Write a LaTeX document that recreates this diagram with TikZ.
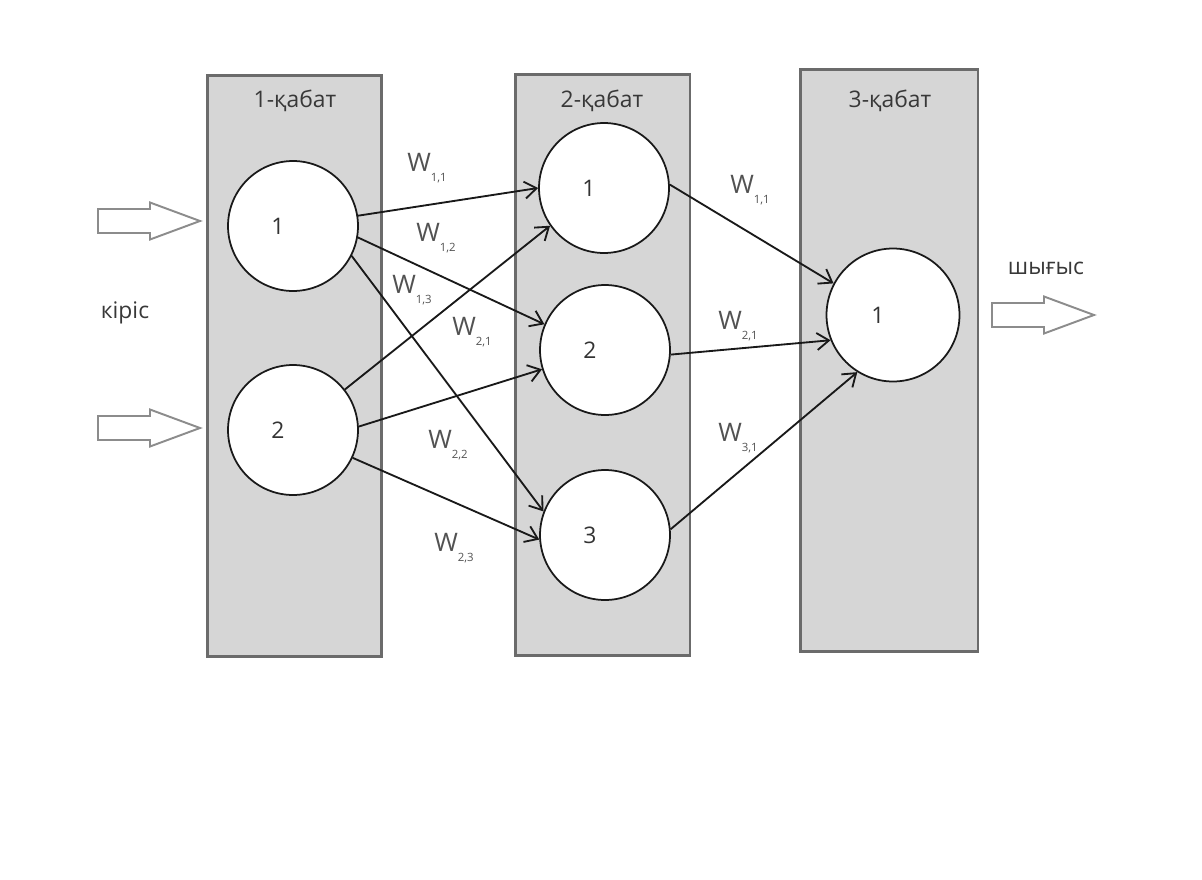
\documentclass[tikz,border=0pt]{standalone}
\usepackage{fontspec}
\setmainfont{Open Sans}
\usetikzlibrary{arrows.meta}
\newcommand{\wlab}[1]{W\raisebox{-0.7ex}{\fontsize{6.5}{7}\selectfont #1}}

\begin{document}
\begin{tikzpicture}[
    x=0.02cm, y=-0.02cm,
    layer/.style={rectangle, draw=black!58, line width=1.7pt, fill=black!16, minimum width=3.5cm, minimum height=11.64cm},
    neuron/.style={circle, draw=black!90, line width=1pt, fill=white, minimum size=2.6cm},
    numlab/.style={xshift=-0.3cm, font=\fontsize{13}{15}\selectfont, text=black!80},
    title/.style={font=\fontsize{13}{15}\selectfont, text=black!78},
    wlabel/.style={font=\fontsize{14.5}{16}\selectfont, text=black!68},
    arrow/.style={-{Straight Barb[length=2.4mm, width=3.4mm]}, line width=1.05pt, draw=black!90},
    bigarrow/.pic={\draw[draw=black!45, line width=1.1pt, fill=white]
        (0,-12) -- (52,-12) -- (52,-18.5) -- (102,0) -- (52,18.5) -- (52,12) -- (0,12) -- cycle;}
]
    \useasboundingbox (0,0) rectangle (1202,879);

    % layers
    \node[layer] (lay1) at (294.5,366) {};
    \node[layer] (lay2) at (602.5,365) {};
    \node[layer, minimum width=3.56cm, minimum height=11.66cm] (lay3) at (889,360.5) {};
    \node[title] (t1) at (295,101) {1-қабат};
    \node[title] (t2) at (602,101) {2-қабат};
    \node[title] (t3) at (890,101) {3-қабат};

    % neurons
    \node[neuron, label={[numlab]center:1}] (i1) at (293,226) {};
    \node[neuron, label={[numlab]center:2}] (i2) at (293,430) {};
    \node[neuron, label={[numlab]center:1}] (h1) at (604,188) {};
    \node[neuron, label={[numlab]center:2}] (h2) at (605,350) {};
    \node[neuron, label={[numlab]center:3}] (h3) at (605,535) {};
    \node[neuron, minimum size=2.66cm, label={[numlab]center:1}] (o1) at (893,315) {};

    % inputs and output
    \pic at (98,221) {bigarrow};
    \pic at (98,428) {bigarrow};
    \pic at (992,315) {bigarrow};
    \node[title] (inp) at (125,313) {кіріс};
    \node[title] (out) at (1046,268) {шығыс};

    % weights 1 -> 2
    \draw[arrow] (i1.9) -- (h1.180);
    \draw[arrow] (i1.-10) -- (h2.157);
    \draw[arrow] (i1.-27) -- (h3.159);
    \draw[arrow] (i2.38) -- (h1.-145);
    \draw[arrow] (i2.3) -- (h2.197);
    \draw[arrow] (i2.-25) -- (h3.184);
    \node[wlabel] (w11) at (427,168) {\wlab{1,1}};
    \node[wlabel] (w12) at (436,238) {\wlab{1,2}};
    \node[wlabel] (w13) at (412,290) {\wlab{1,3}};
    \node[wlabel] (w21) at (472,332) {\wlab{2,1}};
    \node[wlabel] (w22) at (448,445) {\wlab{2,2}};
    \node[wlabel] (w23) at (454,548) {\wlab{2,3}};

    % weights 2 -> 3
    \draw[arrow] (h1.3) -- (o1.152);
    \draw[arrow] (h2.-4) -- (o1.202);
    \draw[arrow] (h3.5) -- (o1.238);
    \node[wlabel] (v11) at (750,190) {\wlab{1,1}};
    \node[wlabel] (v21) at (738,326) {\wlab{2,1}};
    \node[wlabel] (v31) at (738,438) {\wlab{3,1}};
\end{tikzpicture}
\end{document}
